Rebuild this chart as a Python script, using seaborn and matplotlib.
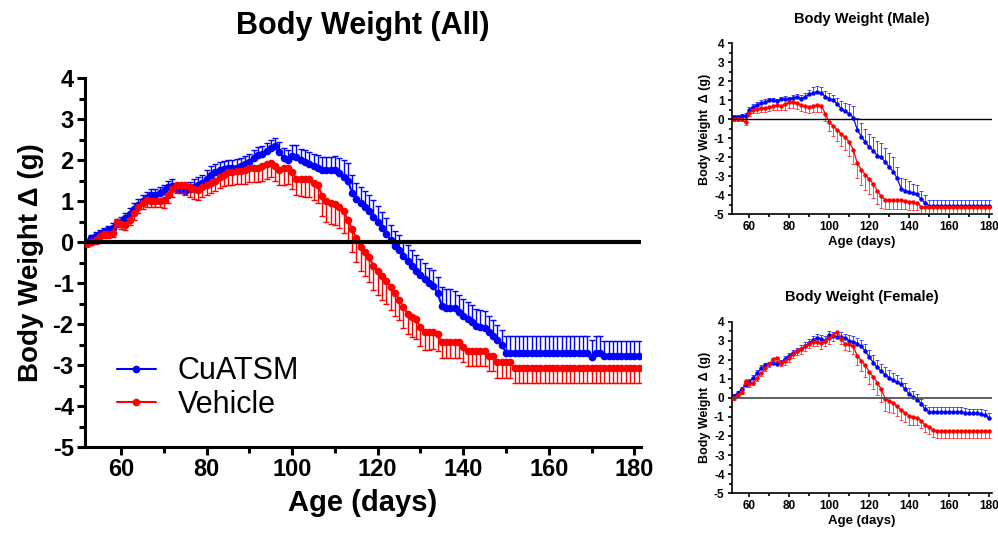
import numpy as np
import matplotlib
matplotlib.use("Agg")
import matplotlib.pyplot as plt
import seaborn as sns
from matplotlib.ticker import MultipleLocator

# ---- data: all animals, daily means (g change) and SEM ----
age_all = np.arange(52, 182)

cuatsm_all = [0.0, 0.1, 0.15, 0.2, 0.25, 0.3, 0.35, 0.45, 0.5, 0.6,
              0.68, 0.8, 0.9, 1.0, 1.08, 1.15, 1.15, 1.2, 1.25, 1.35,
              1.38, 1.3, 1.28, 1.25, 1.3, 1.35, 1.4, 1.45, 1.55, 1.65,
              1.7, 1.75, 1.78, 1.8, 1.8, 1.82, 1.85, 1.9, 1.95, 2.05,
              2.12, 2.15, 2.22, 2.3, 2.34, 2.2, 2.05, 2.0, 2.1, 2.08,
              2.0, 1.95, 1.9, 1.85, 1.8, 1.77, 1.75, 1.75, 1.75, 1.68,
              1.6, 1.5, 1.2, 1.05, 0.95, 0.85, 0.75, 0.62, 0.5, 0.35,
              0.2, 0.05, -0.1, -0.2, -0.35, -0.45, -0.58, -0.7, -0.8, -0.9,
              -1.0, -1.07, -1.25, -1.55, -1.6, -1.6, -1.6, -1.7, -1.8, -1.88,
              -1.95, -2.05, -2.08, -2.1, -2.2, -2.28, -2.38, -2.5, -2.7, -2.7] \
    + [-2.7] * 18 + [-2.8, -2.7, -2.7] + [-2.78] * 9
cuatsm_all_sem = [0.05, 0.08, 0.1, 0.1, 0.1, 0.1, 0.12, 0.12, 0.12, 0.12] \
    + [0.15] * 10 \
    + [0.15, 0.15, 0.15, 0.15, 0.18, 0.18, 0.18, 0.2, 0.2, 0.2] \
    + [0.2] * 10 \
    + [0.2, 0.2, 0.2, 0.2, 0.2, 0.25, 0.25, 0.25, 0.28, 0.28] \
    + [0.28, 0.3, 0.3, 0.3, 0.32, 0.32, 0.32, 0.32, 0.35, 0.38] \
    + [0.4, 0.42, 0.45, 0.4, 0.4, 0.4, 0.4, 0.4, 0.38, 0.38] \
    + [0.38] * 10 \
    + [0.38, 0.38, 0.4, 0.45, 0.45, 0.45, 0.42, 0.42, 0.42, 0.42] \
    + [0.42, 0.42, 0.42, 0.42, 0.4, 0.38, 0.35, 0.35, 0.42, 0.42] \
    + [0.42] * 18 + [0.4, 0.42, 0.42] + [0.36] * 9

vehicle_all = [-0.05, 0.0, 0.05, 0.15, 0.2, 0.2, 0.22, 0.5, 0.45, 0.42,
               0.55, 0.7, 0.85, 0.95, 1.02, 1.0, 1.0, 1.0, 1.02, 1.15,
               1.3, 1.4, 1.4, 1.4, 1.35, 1.3, 1.28, 1.35, 1.4, 1.45,
               1.5, 1.58, 1.65, 1.7, 1.7, 1.73, 1.73, 1.75, 1.8, 1.82,
               1.82, 1.85, 1.9, 1.93, 1.85, 1.77, 1.8, 1.82, 1.7, 1.55,
               1.53, 1.53, 1.53, 1.45, 1.4, 1.12, 1.0, 0.95, 0.92, 0.85,
               0.75, 0.55, 0.31, 0.1, -0.13, -0.25, -0.37, -0.57, -0.7, -0.82,
               -0.95, -1.1, -1.25, -1.4, -1.59, -1.75, -1.82, -1.88, -2.08, -2.19,
               -2.19, -2.19, -2.25, -2.44, -2.44, -2.44, -2.44, -2.44, -2.55, -2.65,
               -2.65, -2.65, -2.65, -2.65, -2.77, -2.77, -2.93, -2.93, -2.93, -2.93] \
    + [-3.08] * 30
vehicle_all_sem = [0.05, 0.08, 0.1, 0.1, 0.1, 0.1, 0.1, 0.12, 0.12, 0.12,
                   0.12, 0.15, 0.15, 0.15, 0.15, 0.15, 0.15, 0.15, 0.18, 0.2,
                   0.2, 0.2, 0.2, 0.25, 0.25, 0.25, 0.25, 0.25, 0.25, 0.25,
                   0.25, 0.25, 0.28, 0.3, 0.3, 0.3, 0.3, 0.32, 0.32, 0.35,
                   0.35, 0.35, 0.35, 0.35, 0.35, 0.38, 0.4, 0.4, 0.4, 0.4,
                   0.4, 0.42, 0.42, 0.42, 0.45, 0.48, 0.5, 0.5, 0.5, 0.5,
                   0.52, 0.55, 0.55, 0.58, 0.58, 0.58, 0.6, 0.6, 0.6, 0.58,
                   0.55, 0.55, 0.55, 0.5, 0.5, 0.5, 0.5, 0.48, 0.45, 0.45,
                   0.45, 0.42, 0.4, 0.38, 0.38, 0.38, 0.38, 0.38, 0.38, 0.38] \
    + [0.38] * 10 + [0.36] * 30

# ---- data: male / female, every second day ----
age_sex = np.arange(52, 181, 2)

cuatsm_male = [0.12, 0.15, 0.16, 0.2, 0.5, 0.65, 0.78, 0.85, 0.9, 1.0,
               1.0, 0.95, 1.05, 1.09, 1.05, 1.15, 1.18, 1.1, 1.2, 1.32,
               1.4, 1.45, 1.38, 1.2, 1.1, 1.0, 0.8, 0.55, 0.42, 0.3,
               0.1, -0.55, -0.9, -1.2, -1.45, -1.65, -1.9, -2.0, -2.25, -2.5,
               -2.75, -3.1, -3.65, -3.75, -3.82, -3.88, -3.95, -4.2, -4.4, -4.55] \
    + [-4.55] * 15
cuatsm_male_sem = [0.1, 0.1, 0.1, 0.15, 0.15, 0.15, 0.15, 0.15, 0.15, 0.15,
                   0.15, 0.15, 0.15, 0.15, 0.15, 0.15, 0.15, 0.2, 0.2, 0.25,
                   0.3, 0.3, 0.3, 0.3, 0.3, 0.3, 0.35, 0.4, 0.45, 0.5,
                   0.6, 0.6, 0.7, 0.7, 0.7, 0.75, 0.75, 0.75, 0.75, 0.75,
                   0.75, 0.6, 0.55, 0.6, 0.6, 0.5, 0.5, 0.45, 0.4, 0.33] \
    + [0.33] * 15
vehicle_male = [0.03, 0.03, 0.0, -0.15, 0.35, 0.47, 0.53, 0.58, 0.6, 0.65,
                0.7, 0.75, 0.72, 0.8, 0.9, 0.92, 0.85, 0.75, 0.7, 0.65,
                0.7, 0.75, 0.72, 0.3, -0.15, -0.35, -0.55, -0.78, -0.95, -1.2,
                -1.6, -2.3, -2.65, -2.9, -3.15, -3.4, -3.75, -4.05, -4.22, -4.26,
                -4.26, -4.26, -4.26, -4.28, -4.35, -4.35, -4.4, -4.6, -4.6, -4.6] \
    + [-4.6] * 15
vehicle_male_sem = [0.1, 0.1, 0.1, 0.15, 0.15, 0.15, 0.2, 0.2, 0.2, 0.2,
                    0.2, 0.25, 0.25, 0.3, 0.3, 0.3, 0.3, 0.3, 0.3, 0.3,
                    0.3, 0.35, 0.35, 0.4, 0.45, 0.5, 0.6, 0.6, 0.65, 0.7,
                    0.75, 0.8, 0.8, 0.8, 0.8, 0.75, 0.7, 0.6, 0.5, 0.45,
                    0.45, 0.45, 0.45, 0.45, 0.4, 0.4, 0.35, 0.35, 0.35, 0.35] \
    + [0.35] * 15

cuatsm_female = [0.1, 0.25, 0.45, 0.65, 0.85, 1.05, 1.3, 1.55, 1.7, 1.75,
                 1.82, 1.8, 1.85, 2.05, 2.2, 2.35, 2.45, 2.55, 2.72, 2.9,
                 3.05, 3.15, 3.1, 3.0, 3.3, 3.25, 3.2, 3.18, 3.12, 3.0,
                 2.95, 2.85, 2.7, 2.45, 2.15, 1.85, 1.6, 1.4, 1.22, 1.05,
                 0.92, 0.82, 0.7, 0.45, 0.2, 0.05, -0.1, -0.3, -0.6, -0.72] \
    + [-0.74] * 8 + [-0.8, -0.82, -0.82, -0.82, -0.85, -0.9, -1.05]
cuatsm_female_sem = [0.1, 0.1, 0.12, 0.12, 0.15, 0.15, 0.15, 0.15, 0.15, 0.15,
                     0.15, 0.15, 0.15, 0.15, 0.15, 0.18, 0.18, 0.2, 0.2, 0.2,
                     0.2, 0.2, 0.2, 0.22, 0.22, 0.22, 0.25, 0.25, 0.25, 0.28,
                     0.3, 0.3, 0.32, 0.35, 0.38, 0.4, 0.4, 0.4, 0.4, 0.4,
                     0.4, 0.4, 0.35, 0.35, 0.3, 0.3, 0.28, 0.25, 0.25, 0.25] \
    + [0.25] * 15
vehicle_female = [0.0, 0.15, 0.3, 0.9, 0.7, 0.8, 1.05, 1.3, 1.55, 1.8,
                  2.05, 2.1, 1.85, 1.95, 2.1, 2.3, 2.45, 2.55, 2.7, 2.85,
                  2.95, 2.95, 2.86, 3.0, 3.15, 3.3, 3.47, 3.1, 2.8, 2.82,
                  2.7, 2.2, 1.95, 1.7, 1.37, 1.1, 0.8, 0.45, -0.05, -0.15,
                  -0.25, -0.45, -0.65, -0.8, -0.95, -1.0, -1.05, -1.2, -1.42, -1.55] \
    + [-1.68] + [-1.75] * 14
vehicle_female_sem = [0.1, 0.1, 0.12, 0.15, 0.15, 0.15, 0.15, 0.15, 0.15, 0.2,
                      0.2, 0.2, 0.2, 0.22, 0.22, 0.22, 0.22, 0.25, 0.25, 0.25,
                      0.25, 0.25, 0.28, 0.28, 0.3, 0.3, 0.3, 0.3, 0.3, 0.35,
                      0.4, 0.5, 0.55, 0.6, 0.62, 0.65, 0.65, 0.65, 0.65, 0.6,
                      0.55, 0.5, 0.5, 0.45, 0.45, 0.42, 0.4, 0.4, 0.38, 0.35] \
    + [0.35] * 15

BLUE = "#0000FF"
RED = "#FF0000"

sns.set_style("ticks")
plt.rcParams["font.family"] = ["Liberation Sans", "DejaVu Sans"]
plt.rcParams["axes.unicode_minus"] = False
for key in ["text.color", "axes.labelcolor", "xtick.color", "ytick.color", "axes.edgecolor"]:
    plt.rcParams[key] = "black"


def draw(ax, age, blue, blue_err, red, red_err, ms, lw, cap, elw, ealpha):
    sns.lineplot(x=age, y=blue, ax=ax, color=BLUE, marker="o", markersize=ms,
                 markeredgewidth=0, linewidth=lw, label="CuATSM", zorder=2)
    ax.errorbar(age, blue, yerr=[np.zeros(len(blue)), blue_err], fmt="none",
                ecolor=BLUE, elinewidth=elw, capsize=cap, capthick=elw,
                alpha=ealpha, zorder=2)
    sns.lineplot(x=age, y=red, ax=ax, color=RED, marker="o", markersize=ms,
                 markeredgewidth=0, linewidth=lw, label="Vehicle", zorder=3)
    ax.errorbar(age, red, yerr=[red_err, np.zeros(len(red))], fmt="none",
                ecolor=RED, elinewidth=elw, capsize=cap, capthick=elw,
                alpha=ealpha, zorder=3)


def style(ax, xlim, spine_w, tick_fs, major_len, minor_len, zero_w, zero_c):
    ax.axhline(0, color=zero_c, linewidth=zero_w, zorder=5)
    ax.set_xlim(*xlim)
    ax.set_ylim(-5, 4)
    ax.xaxis.set_major_locator(MultipleLocator(20))
    ax.xaxis.set_minor_locator(MultipleLocator(10))
    ax.yaxis.set_major_locator(MultipleLocator(1))
    ax.yaxis.set_minor_locator(MultipleLocator(0.5))
    for side in ["top", "right"]:
        ax.spines[side].set_visible(False)
    for side in ["left", "bottom"]:
        ax.spines[side].set_linewidth(spine_w)
    ax.tick_params(which="major", length=major_len, width=spine_w,
                   labelsize=tick_fs, direction="out", pad=2)
    ax.tick_params(which="minor", length=minor_len, width=spine_w, direction="out")
    for lab in ax.get_xticklabels() + ax.get_yticklabels():
        lab.set_fontweight("bold")


fig = plt.figure(figsize=(9.98, 5.36), dpi=100)

# main panel
ax = fig.add_axes([0.085, 0.166, 0.557, 0.688])
draw(ax, age_all, cuatsm_all, cuatsm_all_sem, vehicle_all, vehicle_all_sem,
     ms=5.5, lw=1.5, cap=2.5, elw=1.0, ealpha=1.0)
style(ax, (51.5, 181.5), 2.2, 17, 6, 4, 3, "black")
ax.set_title("Body Weight (All)", fontsize=22, fontweight="bold", pad=32)
ax.set_xlabel("Age (days)", fontsize=21, fontweight="bold", labelpad=6)
ax.set_ylabel("Body Weight \u0394 (g)", fontsize=20, fontweight="bold", labelpad=6)
ax.legend(loc="lower left", bbox_to_anchor=(0.035, 0.04), frameon=False,
          fontsize=22, handlelength=1.3, handletextpad=0.7, labelspacing=0.12,
          borderaxespad=0)

# male panel
axm = fig.add_axes([0.733, 0.600, 0.261, 0.319])
draw(axm, age_sex, cuatsm_male, cuatsm_male_sem, vehicle_male, vehicle_male_sem,
     ms=3.2, lw=0.9, cap=1.2, elw=0.7, ealpha=0.7)
style(axm, (51, 181.5), 1.2, 8.5, 3, 2, 1.0, "black")
axm.set_title("Body Weight (Male)", fontsize=10.5, fontweight="bold", pad=15)
axm.set_xlabel("Age (days)", fontsize=9.5, fontweight="bold", labelpad=2)
axm.set_ylabel("Body Weight  \u0394 (g)", fontsize=9, fontweight="bold", labelpad=2)
axm.get_legend().remove()

# female panel
axf = fig.add_axes([0.733, 0.080, 0.261, 0.320])
draw(axf, age_sex, cuatsm_female, cuatsm_female_sem, vehicle_female, vehicle_female_sem,
     ms=3.2, lw=0.9, cap=1.2, elw=0.7, ealpha=0.7)
style(axf, (51, 181.5), 1.2, 8.5, 3, 2, 1.2, "#444444")
axf.set_title("Body Weight (Female)", fontsize=10.5, fontweight="bold", pad=15)
axf.set_xlabel("Age (days)", fontsize=9.5, fontweight="bold", labelpad=2)
axf.set_ylabel("Body Weight  \u0394 (g)", fontsize=9, fontweight="bold", labelpad=2)
axf.get_legend().remove()

fig.savefig("out.png", dpi=100)
